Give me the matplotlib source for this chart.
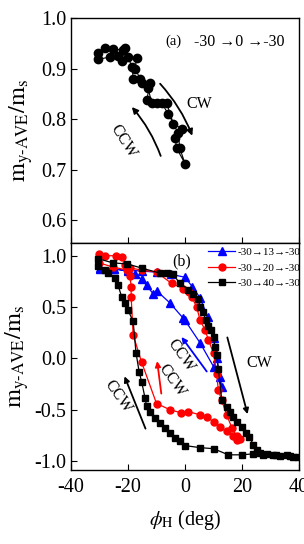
import matplotlib
matplotlib.use("Agg")
import matplotlib.pyplot as plt

plt.rcParams['font.family'] = ['Liberation Serif', 'DejaVu Serif']
plt.rcParams['mathtext.fontset'] = 'stix'
plt.rcParams['axes.unicode_minus'] = False

# Panel (a): -30 -> 0 -> -30
a_phi = [-30.4, -28.1, -25.2, -21.6, -19.9, -17.0, -17.5, -15.8, -12.9, -11.7, -8.2, -5.9, -2.4, -1.8, 0.0,
         -2.9, -3.5, -1.2, -4.1, -6.4, -9.9, -13.4, -12.3, -15.2, -18.1, -18.7, -21.1, -22.2, -23.4, -26.3, -30.4]
a_m = [0.930, 0.940, 0.938, 0.937, 0.923, 0.920, 0.900, 0.880, 0.861, 0.831, 0.831, 0.811, 0.772, 0.742, 0.712,
       0.742, 0.762, 0.781, 0.791, 0.831, 0.831, 0.838, 0.871, 0.871, 0.880, 0.904, 0.940, 0.914, 0.925, 0.923, 0.918]

# Panel (b)
blue_phi = [-30, -25, -20, -15, -10, -5, 0, 2.5, 5.3, 8, 10, 11.1, 12.3, 12.9,
            10, 5.3, 0, -0.6, -5.3, -10, -11.2, -13.5, -15.2, -17.5, -20, -25, -30]
blue_m = [0.87, 0.87, 0.86, 0.85, 0.84, 0.82, 0.79, 0.70, 0.59, 0.40, 0.20, 0.00, -0.18, -0.28,
          -0.08, 0.15, 0.37, 0.39, 0.54, 0.66, 0.63, 0.71, 0.77, 0.82, 0.85, 0.87, 0.88]

red_phi = [-30.2, -28, -24.3, -22.2, -21, -19.3, -15, -10, -4.7, -0.6, 1.5, 2.3, 4.1, 5.3, 7, 8.2, 10, 11.1, 11.7, 12.9,
           14.6, 16.5, 18.2, 19.3,
           18.2, 17, 14.6, 12.3, 10, 7.7, 5.3, 1.2, -1.5, -5.3, -10, -15.2, -18.2, -18.9, -18.9, -19.3, -20.5, -25.2, -30.2]
red_m = [1.02, 1.00, 1.00, 0.99, 0.91, 0.88, 0.86, 0.84, 0.73, 0.68, 0.65, 0.60, 0.50, 0.37, 0.28, 0.18, 0.05, -0.15, -0.31, -0.41,
         -0.55, -0.68, -0.76, -0.79,
         -0.80, -0.76, -0.71, -0.67, -0.62, -0.57, -0.55, -0.52, -0.53, -0.50, -0.44, -0.04, 0.23, 0.60, 0.70, 0.80, 0.86, 0.89, 0.93]

black_phi = [-30.4, -25.2, -20.3, -15.2, -8.8, -6.4, -4.2, -1.8, 1.2, 2.9, 4.7, 5.3, 6.4, 7.3, 8.2, 9, 10, 10.5, 11.1, 11.7,
             12.9, 14.6, 15.8, 17, 18.3, 19.9, 21.4, 22.6, 24, 25.1, 26.3, 28.7, 31, 33.3, 35.7, 38, 39.5,
             36.8, 32, 27.5, 24, 19.9, 15.2, 10, 5.3, 0, -1.8, -3.5, -5.3, -7.0, -8.8, -10.5, -12.3, -13.5, -14.0,
             -15.2, -16.1, -17.2, -18.2, -20, -21, -22.2, -23.5, -24.6, -27, -28, -30.4]
black_m = [0.97, 0.93, 0.92, 0.88, 0.83, 0.83, 0.82, 0.73, 0.67, 0.63, 0.58, 0.50, 0.45, 0.37, 0.32, 0.28, 0.21, 0.11, 0.03, -0.10,
           -0.41, -0.47, -0.52, -0.57, -0.62, -0.67, -0.73, -0.77, -0.84, -0.89, -0.92, -0.93, -0.94, -0.95, -0.94, -0.96, -0.96,
           -0.95, -0.94, -0.94, -0.93, -0.94, -0.94, -0.88, -0.87, -0.85, -0.81, -0.78, -0.73, -0.68, -0.63, -0.58, -0.52, -0.46, -0.39,
           -0.23, -0.13, 0.055, 0.36, 0.47, 0.54, 0.60, 0.71, 0.78, 0.83, 0.86, 0.90]

legend_labels = ['-30\u219213\u2192-30', '-30\u219220\u2192-30', '-30\u219240\u2192-30']

fig = plt.figure(figsize=(3.04, 5.44), dpi=100)
ax1 = fig.add_axes([0.2336, 0.5533, 0.75, 0.4137])
ax2 = fig.add_axes([0.2336, 0.136, 0.75, 0.4173])

tick_fs = 14.5
for ax in (ax1, ax2):
    ax.set_xlim(-40, 40)
    ax.set_xticks([-40, -20, 0, 20, 40])
    ax.tick_params(direction='in', labelsize=tick_fs, length=4, width=0.8)
    ax.tick_params(axis='x', pad=6)
    for s in ax.spines.values():
        s.set_linewidth(1.0)

# Panel (a)
ax1.plot(a_phi, a_m, color='black', marker='o', ms=6, lw=0.8)
ax1.set_ylim(0.555, 1.0)
ax1.set_yticks([0.6, 0.7, 0.8, 0.9, 1.0])
ax1.tick_params(labelbottom=False)
ax1.set_ylabel(r'$\mathrm{m_{y\text{-}AVE}/m_s}$', fontsize=17.5, labelpad=4)
ax1.text(-4.0, 0.953, '(a)', fontsize=10.5, ha='center', va='center')
ax1.text(18.9, 0.953, '-30 \u21920 \u2192-30', fontsize=11.5, ha='center', va='center')
ax1.annotate('', xy=(2.9, 0.762), xytext=(-9.4, 0.874),
             arrowprops=dict(arrowstyle='-|>', color='black', lw=1.3, mutation_scale=9,
                             connectionstyle='arc3,rad=-0.1'))
ax1.text(5.0, 0.83, 'CW', fontsize=11.5, ha='center', va='center')
ax1.annotate('', xy=(-19.3, 0.828), xytext=(-8.2, 0.722),
             arrowprops=dict(arrowstyle='-|>', color='black', lw=1.3, mutation_scale=9,
                             connectionstyle='arc3,rad=0.1'))
ax1.text(-21.5, 0.757, 'CCW', fontsize=11.5, ha='center', va='center', rotation=-58)

# Panel (b)
ax2.plot(blue_phi, blue_m, color='#0000ff', marker='^', ms=5.5, lw=0.9, label=legend_labels[0])
ax2.plot(red_phi, red_m, color='#ff0000', marker='o', ms=5, lw=0.9, label=legend_labels[1])
ax2.plot(black_phi, black_m, color='black', marker='s', ms=4, lw=0.9, label=legend_labels[2])
ax2.set_ylim(-1.088, 1.124)
ax2.set_yticks([-1.0, -0.5, 0.0, 0.5, 1.0])
ax2.set_ylabel(r'$\mathrm{m_{y\text{-}AVE}/m_s}$', fontsize=17.5, labelpad=2)
ax2.set_xlabel(r'$\phi_\mathrm{H}$ (deg)', fontsize=14.5, labelpad=8)
ax2.text(-1.2, 0.94, '(b)', fontsize=11.5, ha='center', va='center')
leg = ax2.legend(loc='upper right', bbox_to_anchor=(1.015, 0.99), fontsize=8, frameon=False,
                 handlelength=2.4, handletextpad=0.2, labelspacing=0.5, borderpad=0.2,
                 borderaxespad=0.0)

def arrow(ax, start, end, color):
    ax.annotate('', xy=end, xytext=start,
                arrowprops=dict(arrowstyle='-|>', color=color, lw=1.3, mutation_scale=8))

arrow(ax2, (14.6, 0.23), (22.2, -0.57), 'black')
ax2.text(26, -0.05, 'CW', fontsize=11.5, ha='center', va='center')
arrow(ax2, (8.2, -0.15), (-1.8, 0.23), '#0000ff')
ax2.text(-1.5, 0.03, 'CCW', fontsize=11.5, ha='center', va='center', rotation=-55)
arrow(ax2, (-8.2, -0.37), (-9.9, 0.0), '#ff0000')
ax2.text(-4.7, -0.22, 'CCW', fontsize=11.5, ha='center', va='center', rotation=-55)
arrow(ax2, (-13.5, -0.71), (-21.6, -0.15), 'black')
ax2.text(-23.5, -0.37, 'CCW', fontsize=11.5, ha='center', va='center', rotation=-55)

fig.savefig('out.png', dpi=100)
